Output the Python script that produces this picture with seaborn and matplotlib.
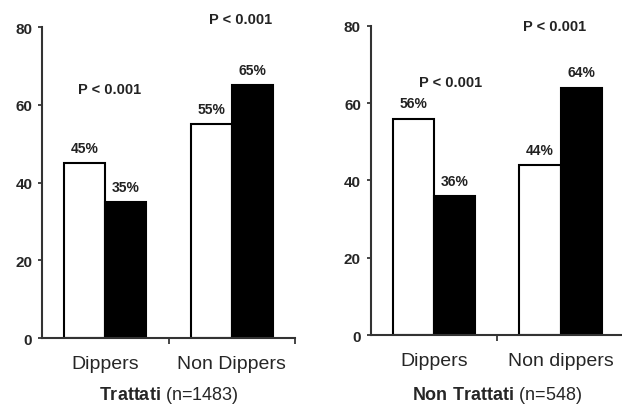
import pandas as pd
import matplotlib.pyplot as plt
import seaborn as sns

# Dati
categorie_tratt = ['Dippers', 'Non Dippers']
categorie_non_tratt = ['Dippers', 'Non dippers']
serie = ['Bianco', 'Nero']
valori_tratt = {'Bianco': [45, 55], 'Nero': [35, 65]}
valori_non_tratt = {'Bianco': [56, 44], 'Nero': [36, 64]}
etichette_tratt = {'Bianco': ['45%', '55%'], 'Nero': ['35%', '65%']}
etichette_non_tratt = {'Bianco': ['56%', '44%'], 'Nero': ['36%', '64%']}
p_tratt = [(0.03, 64, 'P < 0.001'), (1.07, 82, 'P < 0.001')]
p_non_tratt = [(0.13, 65.5, 'P < 0.001'), (0.95, 80, 'P < 0.001')]

sns.set_style('ticks')
plt.rcParams['font.family'] = ['Liberation Sans', 'DejaVu Sans']
plt.rcParams['mathtext.fontset'] = 'custom'
plt.rcParams['mathtext.bf'] = 'Liberation Sans:bold'
plt.rcParams['mathtext.rm'] = 'Liberation Sans'


def crea_df(categorie, valori):
    righe = []
    for s in serie:
        for c, v in zip(categorie, valori[s]):
            righe.append({'categoria': c, 'serie': s, 'valore': v})
    return pd.DataFrame(righe)


def disegna(ax, categorie, valori, etichette, pvalori, titolo, labelpad):
    df = crea_df(categorie, valori)
    sns.barplot(data=df, x='categoria', y='valore', hue='serie', order=categorie,
                hue_order=serie, palette=['white', 'black'], edgecolor='black',
                linewidth=1.5, width=0.65, legend=False, ax=ax)
    for cont, s in zip(ax.containers, serie):
        ax.bar_label(cont, labels=etichette[s], padding=6, fontsize=10,
                     fontweight='bold', color='#222222')
    for x, y, t in pvalori:
        ax.text(x, y, t, ha='center', va='center', fontsize=10.5,
                fontweight='bold', color='#222222', clip_on=False)
    ax.set_xlim(-0.5, 1.5)
    ax.set_ylim(0, 80)
    ax.set_yticks([0, 20, 40, 60, 80])
    ax.tick_params(axis='y', labelsize=11, length=3, width=1.2, pad=4)
    for lab in ax.get_yticklabels():
        lab.set_fontweight('bold')
    ax.tick_params(axis='x', labelsize=14, length=0, pad=12)
    ax.set_xticks([0.5, 1.5], minor=True)
    ax.tick_params(axis='x', which='minor', length=4, width=1.2, direction='out')
    ax.set_ylabel('')
    ax.set_xlabel(titolo, fontsize=13, labelpad=labelpad)
    sns.despine(ax=ax)
    for sp in ['left', 'bottom']:
        ax.spines[sp].set_linewidth(1.5)
        ax.spines[sp].set_color('#333333')


fig = plt.figure(figsize=(6.22, 4.06), dpi=100)
ax1 = fig.add_axes([0.0675, 0.165, 0.407, 0.766])
ax2 = fig.add_axes([0.596, 0.172, 0.407, 0.762])

disegna(ax1, categorie_tratt, valori_tratt, etichette_tratt, p_tratt,
        r'$\bf{Trattati}$ (n=1483)', 9)
disegna(ax2, categorie_non_tratt, valori_non_tratt, etichette_non_tratt, p_non_tratt,
        r'$\bf{Non\ Trattati}$ (n=548)', 11)

plt.savefig('out.png', dpi=100)
plt.close()
